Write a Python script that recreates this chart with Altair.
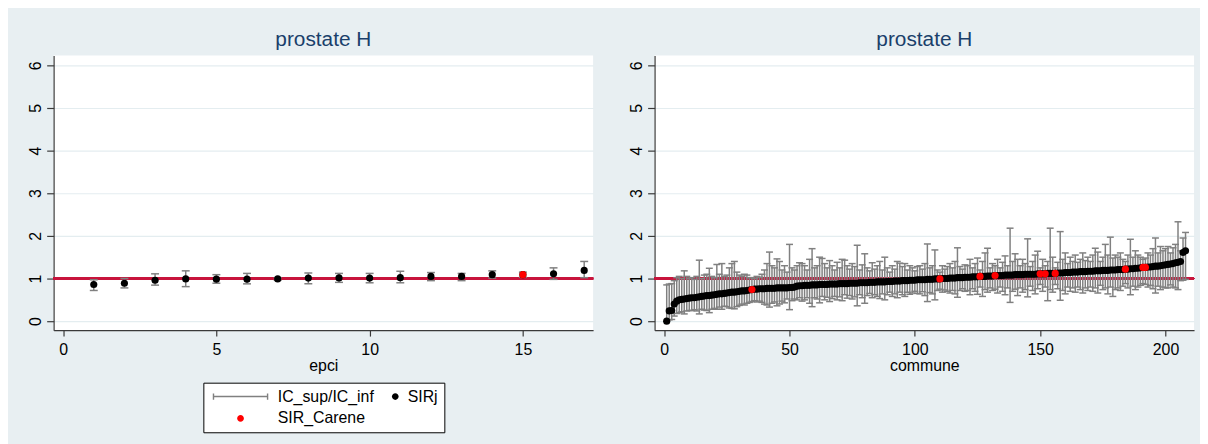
import altair as alt
import pandas as pd

FONT = "Liberation Sans"
BG = "#e8eff2"
GRID = "#e4edf0"
AXIS = "#3a3a3a"
TITLE_C = "#1a3f6b"
BAR = "#808080"
REF = "#c8143c"

# ---- left panel: EPCI ----
epci = list(range(1, 18))
epci_sir = [0.86, 0.89, 0.96, 0.99, 0.985, 0.985, 0.99, 1.01, 1.015, 1.01, 1.02, 1.05, 1.05, 1.09, 1.09, 1.11, 1.19]
epci_upper = [0.97, 1.00, 1.11, 1.18, 1.09, 1.12, 1.02, 1.13, 1.12, 1.12, 1.17, 1.14, 1.12, 1.18, 1.15, 1.25, 1.40]
epci_lower = [0.72, 0.78, 0.845, 0.81, 0.89, 0.875, 0.96, 0.88, 0.91, 0.90, 0.90, 0.95, 0.95, 1.01, 1.03, 0.98, 1.02]
epci_carene = [15]

# ---- right panel: communes (sorted by SIR) ----
commune = list(range(1, 209))
commune_sir = [
    0.00, 0.24, 0.25, 0.40, 0.47, 0.50, 0.51, 0.52, 0.53, 0.54,
    0.55, 0.55, 0.56, 0.57, 0.58, 0.59, 0.60, 0.60, 0.61, 0.62,
    0.63, 0.64, 0.64, 0.65, 0.66, 0.67, 0.68, 0.68, 0.69, 0.70,
    0.71, 0.71, 0.72, 0.73, 0.74, 0.75, 0.75, 0.76, 0.76, 0.76,
    0.77, 0.77, 0.77, 0.77, 0.78, 0.78, 0.78, 0.78, 0.78, 0.79,
    0.79, 0.80, 0.82, 0.83, 0.83, 0.84, 0.84, 0.84, 0.85, 0.85,
    0.85, 0.86, 0.86, 0.86, 0.86, 0.87, 0.87, 0.87, 0.87, 0.88,
    0.88, 0.88, 0.88, 0.89, 0.89, 0.89, 0.89, 0.90, 0.90, 0.90,
    0.90, 0.91, 0.91, 0.91, 0.92, 0.92, 0.92, 0.92, 0.93, 0.93,
    0.93, 0.94, 0.94, 0.94, 0.95, 0.95, 0.95, 0.96, 0.96, 0.96,
    0.97, 0.97, 0.97, 0.97, 0.98, 0.98, 0.98, 0.99, 0.99, 0.99,
    1.00, 1.00, 1.00, 1.01, 1.01, 1.01, 1.02, 1.02, 1.02, 1.03,
    1.03, 1.03, 1.04, 1.04, 1.04, 1.05, 1.05, 1.05, 1.06, 1.06,
    1.06, 1.07, 1.07, 1.07, 1.07, 1.08, 1.08, 1.08, 1.08, 1.09,
    1.09, 1.09, 1.09, 1.10, 1.10, 1.10, 1.10, 1.10, 1.11, 1.11,
    1.11, 1.11, 1.12, 1.12, 1.12, 1.12, 1.13, 1.13, 1.13, 1.14,
    1.14, 1.14, 1.15, 1.15, 1.15, 1.16, 1.16, 1.16, 1.17, 1.17,
    1.17, 1.18, 1.18, 1.18, 1.19, 1.19, 1.19, 1.20, 1.20, 1.20,
    1.21, 1.21, 1.21, 1.22, 1.22, 1.23, 1.23, 1.24, 1.24, 1.25,
    1.26, 1.26, 1.27, 1.27, 1.28, 1.29, 1.29, 1.30, 1.31, 1.32,
    1.33, 1.34, 1.35, 1.37, 1.38, 1.40, 1.61, 1.65,
]
commune_upper = [
    0.85, 0.87, 0.88, 0.95, 1.02, 1.05, 1.00, 1.18, 1.05, 1.00,
    1.02, 0.98, 1.05, 1.43, 1.00, 1.08, 1.10, 1.24, 1.05, 1.02,
    1.33, 1.10, 1.35, 1.05, 1.08, 1.25, 1.35, 1.40, 1.15, 1.08,
    1.05, 1.10, 1.08, 1.02, 1.02, 1.00, 1.05, 1.03, 1.10, 1.20,
    1.35, 1.62, 1.30, 1.25, 1.46, 1.40, 1.20, 1.30, 1.15, 1.80,
    1.25, 1.20, 1.30, 1.37, 1.35, 1.30, 1.20, 1.45, 1.70, 1.25,
    1.30, 1.50, 1.47, 1.35, 1.25, 1.42, 1.30, 1.20, 1.38, 1.25,
    1.45, 1.43, 1.30, 1.22, 1.35, 1.28, 1.78, 1.20, 1.32, 1.58,
    1.25, 1.18, 1.37, 1.22, 1.30, 1.40, 1.20, 1.50, 1.25, 1.15,
    1.30, 1.22, 1.40, 1.36, 1.28, 1.35, 1.20, 1.30, 1.25, 1.18,
    1.28, 1.30, 1.22, 1.35, 1.81, 1.25, 1.30, 1.67, 1.20, 1.15,
    1.30, 1.22, 1.28, 1.35, 1.25, 1.40, 1.72, 1.28, 1.22, 1.32,
    1.30, 1.45, 1.25, 1.35, 1.48, 1.20, 1.40, 1.60, 1.71, 1.25,
    1.35, 1.30, 1.45, 1.25, 1.38, 1.53, 1.30, 2.18, 1.40, 1.58,
    1.45, 1.30, 1.45, 1.35, 1.93, 1.28, 1.40, 1.55, 1.64, 1.25,
    1.45, 1.30, 1.40, 2.18, 1.50, 1.25, 1.38, 2.10, 1.45, 1.60,
    1.35, 1.50, 1.40, 1.55, 1.38, 1.45, 1.60, 1.42, 1.50, 1.40,
    1.55, 1.71, 1.62, 1.40, 1.50, 1.80, 1.55, 1.97, 1.48, 1.55,
    1.50, 1.60, 1.45, 1.40, 1.55, 1.92, 1.50, 1.65, 1.55, 1.50,
    1.45, 1.48, 1.60, 1.55, 1.70, 1.95, 1.60, 1.75, 1.65, 1.70,
    1.75, 1.60, 1.72, 1.80, 2.33, 1.65, 1.95, 2.08,
]
commune_lower = [
    0.00, 0.03, 0.04, 0.12, 0.18, 0.20, 0.22, 0.17, 0.24, 0.25,
    0.25, 0.27, 0.24, 0.17, 0.28, 0.26, 0.25, 0.20, 0.28, 0.30,
    0.28, 0.33, 0.28, 0.35, 0.34, 0.31, 0.30, 0.29, 0.34, 0.37,
    0.40, 0.38, 0.42, 0.44, 0.46, 0.48, 0.45, 0.47, 0.44, 0.40,
    0.38, 0.33, 0.42, 0.45, 0.36, 0.40, 0.47, 0.43, 0.52, 0.27,
    0.48, 0.52, 0.50, 0.55, 0.47, 0.50, 0.55, 0.42, 0.34, 0.55,
    0.52, 0.43, 0.58, 0.50, 0.56, 0.46, 0.53, 0.58, 0.50, 0.57,
    0.48, 0.62, 0.54, 0.60, 0.52, 0.57, 0.36, 0.62, 0.55, 0.42,
    0.60, 0.65, 0.55, 0.62, 0.58, 0.53, 0.64, 0.50, 0.62, 0.68,
    0.58, 0.64, 0.55, 0.68, 0.62, 0.58, 0.68, 0.63, 0.66, 0.70,
    0.65, 0.64, 0.69, 0.60, 0.46, 0.67, 0.64, 0.50, 0.72, 0.75,
    0.68, 0.73, 0.70, 0.66, 0.72, 0.64, 0.56, 0.72, 0.76, 0.70,
    0.72, 0.62, 0.76, 0.70, 0.63, 0.80, 0.58, 0.74, 0.68, 0.78,
    0.72, 0.75, 0.66, 0.80, 0.70, 0.62, 0.78, 0.44, 0.70, 0.75,
    0.60, 0.78, 0.68, 0.74, 0.57, 0.82, 0.72, 0.64, 0.76, 0.86,
    0.70, 0.80, 0.48, 0.74, 0.68, 0.86, 0.76, 0.49, 0.72, 0.64,
    0.80, 0.70, 0.78, 0.68, 0.80, 0.74, 0.66, 0.78, 0.72, 0.80,
    0.70, 0.78, 0.66, 0.84, 0.74, 0.78, 0.64, 0.80, 0.58, 0.74,
    0.78, 0.72, 0.82, 0.88, 0.78, 0.62, 0.82, 0.74, 0.80, 0.84,
    0.88, 0.86, 0.80, 0.84, 0.76, 0.66, 0.82, 0.74, 0.80, 0.78,
    0.78, 0.85, 0.80, 0.78, 0.74, 0.95, 0.96, 0.98,
]
commune_carene = [35, 110, 126, 132, 150, 152, 156, 184, 191, 192]

# ---- legend ----
legend_keys = ["a", "b", "c"]
legend_labels = ["IC_sup/IC_inf", "SIRj", "SIR_Carene"]
legend_fill = [BAR, "black", "red"]
# custom legend symbols (unit = 8 px, origin = symbol centre): capped line, dots
LINE = "M-4.94,-0.4H-4.76V-0.1H1.88V-0.4H2.06V0.4H1.88V0.1H-4.76V0.4H-4.94Z"
DOT_BLACK = "M1.27,0A0.42,0.42,0,1,1,2.11,0A0.42,0.42,0,1,1,1.27,0Z"
DOT_RED = "M-1.86,0A0.42,0.42,0,1,1,-1.02,0A0.42,0.42,0,1,1,-1.86,0Z"
legend_shapes = [LINE, DOT_BLACK, DOT_RED]
label_expr = ("datum.label == 'a' ? '%s' : datum.label == 'b' ? '%s' : '%s'"
              % tuple(legend_labels))

W, H = 544, 277


def panel(xs, sir, up, lo, carene, xtitle, xdomain, xticks, cap):
    df = pd.DataFrame({"x": xs, "sir": sir, "up": up, "lo": lo})
    df["carene"] = df["x"].isin(carene)
    df["series"] = "b"

    xscale = alt.Scale(domain=xdomain, nice=False, zero=False)
    yscale = alt.Scale(domain=[-0.21, 6.23], nice=False, zero=False)
    xaxis = alt.Axis(values=xticks, title=xtitle, grid=False, labelFlush=False,
                     tickSize=6, labelPadding=6, titleY=41, titleBaseline="alphabetic",
                     labelOverlap=False)
    yaxis = alt.Axis(values=[0, 1, 2, 3, 4, 5, 6], title=None, grid=True,
                     labelAngle=270, labelAlign="center", labelBaseline="alphabetic",
                     tickSize=7, labelPadding=6, minExtent=46, maxExtent=46,
                     labelOverlap=False)

    def X(f):
        return alt.X(f, type="quantitative", scale=xscale, axis=xaxis)

    def Y(f):
        return alt.Y(f, type="quantitative", scale=yscale, axis=yaxis)

    base = alt.Chart(df)
    ref = base.mark_rule(color=REF, strokeWidth=2).encode(
        y=alt.Y(datum=1, type="quantitative", scale=yscale, axis=yaxis))
    bars = base.mark_rule(color=BAR, strokeWidth=1.5).encode(x=X("x"), y=Y("lo"), y2="up")
    cap_up = base.mark_tick(color=BAR, orient="horizontal", size=cap, thickness=1.5,
                            opacity=1).encode(x=X("x"), y=Y("up"))
    cap_lo = base.mark_tick(color=BAR, orient="horizontal", size=cap, thickness=1.5,
                            opacity=1).encode(x=X("x"), y=Y("lo"))
    pts = base.mark_circle(color="black", size=52, opacity=1).encode(x=X("x"), y=Y("sir"))
    red = base.transform_filter("datum.carene").mark_circle(
        color="red", size=52, opacity=1).encode(x=X("x"), y=Y("sir"))

    leg = alt.Legend(orient="none", legendX=151, legendY=330, columns=2, direction="horizontal",
                     title=" ", titleOrient="left", titleFontSize=1, titlePadding=35,
                     fillColor="white", strokeColor="black", padding=6,
                     labelFont=FONT, labelFontSize=16, labelColor="black",
                     labelOffset=18, symbolSize=256, symbolStrokeWidth=0,
                     symbolOpacity=1, rowPadding=6, columnPadding=0,
                     labelExpr=label_expr)
    legend_layer = base.transform_filter("false").mark_point(filled=True, opacity=1).encode(
        x=X("x"), y=Y("sir"),
        color=alt.Color("series:N", scale=alt.Scale(domain=legend_keys, range=legend_fill), legend=leg),
        shape=alt.Shape("series:N", scale=alt.Scale(domain=legend_keys, range=legend_shapes), legend=leg),
    )

    return alt.layer(ref, bars, cap_up, cap_lo, pts, red, legend_layer).properties(
        width=W, height=H,
        title=alt.TitleParams("prostate H", fontSize=21, font=FONT, fontWeight="normal",
                              color=TITLE_C, anchor="middle", offset=-11, baseline="alphabetic"),
    )


left = panel(epci, epci_sir, epci_upper, epci_lower, epci_carene, "epci",
             [-0.31, 17.29], [0, 5, 10, 15], 8)
right = panel(commune, commune_sir, commune_upper, commune_lower, commune_carene, "commune",
              [-3.84, 211.4], [0, 50, 100, 150, 200], 7)

chart = alt.hconcat(left, right, spacing=15).properties(
    background=BG,
    padding={"left": 0, "top": 19, "right": 5, "bottom": 10},
).configure_view(stroke=None, fill="white").configure_axis(
    domainColor=AXIS, tickColor=AXIS, domainWidth=1.2, tickWidth=1.2,
    labelFont=FONT, titleFont=FONT, labelFontSize=16, titleFontSize=16,
    labelColor="black", titleColor="black", titleFontWeight="normal",
    gridColor=GRID, gridWidth=1.2,
)

chart.save("out.html", embed_options={"renderer": "svg", "actions": False})
